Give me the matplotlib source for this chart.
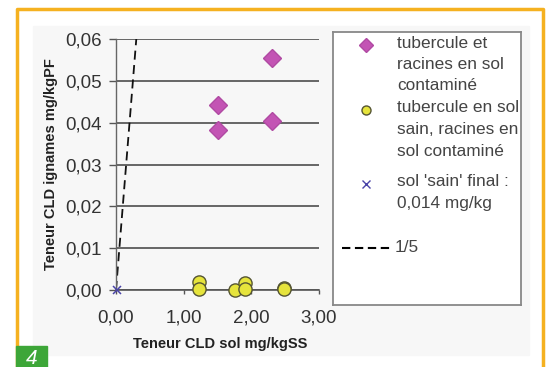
import matplotlib
matplotlib.use("Agg")
import matplotlib.pyplot as plt
from matplotlib.lines import Line2D
from matplotlib.patches import Rectangle

plt.rcParams['font.family'] = ['Liberation Sans', 'DejaVu Sans']

# data
diam_x = [1.51, 1.51, 2.30, 2.30]
diam_y = [0.0443, 0.0383, 0.0555, 0.0405]
circ_x = [1.22, 1.22, 1.765, 1.90, 1.90, 2.48, 2.48]
circ_y = [0.0018, 0.0003, 0.0001, 0.0016, 0.0003, 0.0004, 0.0002]
sain_x = [0.014]
sain_y = [0.0]
ratio_x = [0.0, 0.30]
ratio_y = [0.0, 0.06]

yticks = [0.00, 0.01, 0.02, 0.03, 0.04, 0.05, 0.06]
ylabels = ['0,00', '0,01', '0,02', '0,03', '0,04', '0,05', '0,06']
xticks = [0, 1, 2, 3]
xlabels = ['0,00', '1,00', '2,00', '3,00']

legend_lines = [
    ["tubercule et", "racines en sol", "contaminé"],
    ["tubercule en sol", "sain, racines en", "sol contaminé"],
    ["sol 'sain' final :", "0,014 mg/kg"],
]

W, H = 549, 367
fig = plt.figure(figsize=(W / 100, H / 100), dpi=100)

def px(x0, y0, x1, y1):
    return [x0 / W, 1 - y1 / H, (x1 - x0) / W, (y1 - y0) / H]

# light grey panel behind the chart
fig.patches.append(Rectangle((33 / W, 1 - 355 / H), (529 - 33) / W, (355 - 26) / H,
                             transform=fig.transFigure, color='#f7f7f7', zorder=-1))

ax = fig.add_axes(px(116, 39, 319, 290))
ax.set_facecolor('none')
ax.set_xlim(0, 3)
ax.set_ylim(0, 0.06)
for s in ['top', 'right']:
    ax.spines[s].set_visible(False)
ax.spines['left'].set_color('#666666')
ax.spines['bottom'].set_color('#555555')
ax.spines['left'].set_linewidth(1.0)
ax.spines['bottom'].set_linewidth(1.2)
ax.set_yticks(yticks)
ax.set_yticklabels(ylabels)
ax.set_xticks(xticks)
ax.set_xticklabels(xlabels)
ax.tick_params(axis='y', direction='out', length=5, width=1, color='#555555',
               pad=5, labelsize=13.5, labelcolor='#333333')
ax.tick_params(axis='x', direction='out', length=3, width=1, color='#555555',
               pad=11, labelsize=13.5, labelcolor='#333333')
ax.yaxis.grid(True, color='#4d4d4d', linewidth=1.2)
ax.set_axisbelow(True)

ax.plot(ratio_x, ratio_y, color='#111111', linestyle=(0, (5, 3)), linewidth=1.3, zorder=2)
ax.plot(diam_x, diam_y, linestyle='none', marker='D', markersize=9,
        markerfacecolor='#c354b4', markeredgecolor='#b04aa3', zorder=3)
ax.plot(circ_x, circ_y, linestyle='none', marker='o', markersize=9.5,
        markerfacecolor='#e6e43c', markeredgecolor='#555533', markeredgewidth=1,
        clip_on=False, zorder=3)
ax.plot(sain_x, sain_y, linestyle='none', marker='x', markersize=6,
        color='#4a44a8', markeredgewidth=1.1, clip_on=False, zorder=4)

ax.set_xlabel('Teneur CLD sol mg/kgSS', fontsize=10.5, fontweight='bold', color='#222222')
ax.set_ylabel('Teneur CLD ignames mg/kgPF', fontsize=10.5, fontweight='bold', color='#222222')
ax.xaxis.set_label_coords(0.512, -0.187)
ax.yaxis.set_label_coords(-0.285, 0.5)

# legend box drawn by hand so markers sit on the first line of each entry
lax = fig.add_axes(px(333, 32, 521, 305))
lax.set_xlim(0, 188)
lax.set_ylim(273, 0)
lax.set_xticks([])
lax.set_yticks([])
lax.set_facecolor('white')
for s in lax.spines.values():
    s.set_color('#888888')
    s.set_linewidth(1.3)

mk = [dict(marker='D', markersize=7, markerfacecolor='#c354b4', markeredgecolor='#b04aa3'),
      dict(marker='o', markersize=6.5, markerfacecolor='#e6e43c', markeredgecolor='#555533'),
      dict(marker='x', markersize=5.5, color='#4a44a8', markeredgewidth=1.0)]
tops = [11, 76, 150]
step = 21.5
for lines, top, m in zip(legend_lines, tops, mk):
    lax.plot([33], [top + 2], linestyle='none', **m)
    for i, t in enumerate(lines):
        lax.text(64, top + i * step, t, fontsize=12.4, color='#444444', va='center', ha='left')
lax.plot([9, 60], [216, 216], color='black', linestyle=(0, (4, 2.2)), linewidth=1.5)
lax.text(62, 216, '1/5', fontsize=12.4, color='#444444', va='center', ha='left')

# orange frame and figure number
fig.lines.append(Line2D([16.5 / W, 16.5 / W, 543 / W, 543 / W],
                        [0, 1 - 8.5 / H, 1 - 8.5 / H, 0],
                        transform=fig.transFigure, color='#f5b120', linewidth=2.5))
fig.patches.append(Rectangle((16 / W, 0), 31 / W, 21 / H, transform=fig.transFigure,
                             color='#3da638', zorder=5))
fig.text(31.5 / W, 9 / H, '4', fontsize=15, style='italic', color='white',
         ha='center', va='center', zorder=6)

fig.savefig('out.png', dpi=100)
